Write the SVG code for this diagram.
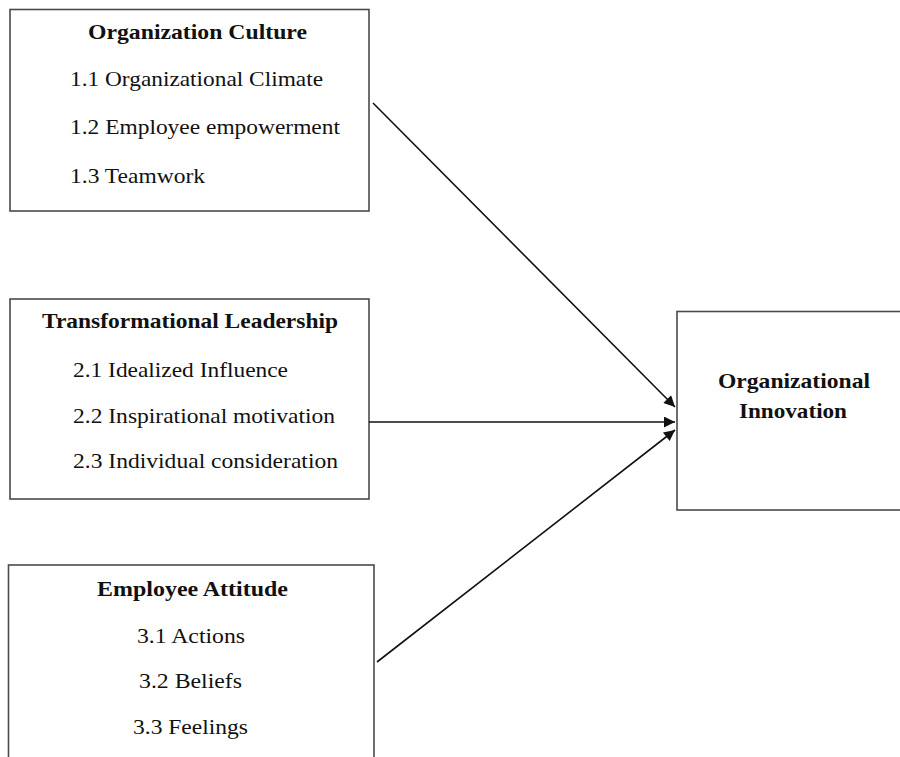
<svg xmlns="http://www.w3.org/2000/svg" width="900" height="757" viewBox="0 0 900 757">
  <style>
    .box { fill: #ffffff; stroke: #4a4a4a; stroke-width: 1.6; }
    .title { font-family: "Liberation Serif", "Times New Roman", serif; font-size: 21px; font-weight: bold; fill: #111111; }
    .item { font-family: "Liberation Serif", "Times New Roman", serif; font-size: 21px; fill: #111111; }
    .conn { stroke: #111111; stroke-width: 1.6; fill: none; marker-end: url(#arrow); }
  </style>
  <defs>
    <marker id="arrow" viewBox="0 0 10 10" refX="10" refY="5" markerWidth="14" markerHeight="11" markerUnits="userSpaceOnUse" orient="auto">
      <path d="M0,0 L10,5 L0,10 z" fill="#111111"/>
    </marker>
  </defs>
  <rect width="900" height="757" fill="#ffffff"/>

  <g id="organization-culture">
    <rect class="box" x="10" y="9.5" width="359" height="201.5"/>
    <text class="title" x="88" y="39" textLength="219" lengthAdjust="spacingAndGlyphs">Organization Culture</text>
    <text class="item" x="70" y="86" textLength="253" lengthAdjust="spacingAndGlyphs">1.1 Organizational Climate</text>
    <text class="item" x="70" y="134" textLength="270" lengthAdjust="spacingAndGlyphs">1.2 Employee empowerment</text>
    <text class="item" x="70" y="183" textLength="135" lengthAdjust="spacingAndGlyphs">1.3 Teamwork</text>
  </g>

  <g id="transformational-leadership">
    <rect class="box" x="10" y="299" width="359" height="200"/>
    <text class="title" x="42" y="328" textLength="296" lengthAdjust="spacingAndGlyphs">Transformational Leadership</text>
    <text class="item" x="73" y="377" textLength="215" lengthAdjust="spacingAndGlyphs">2.1 Idealized Influence</text>
    <text class="item" x="73" y="423" textLength="262" lengthAdjust="spacingAndGlyphs">2.2 Inspirational motivation</text>
    <text class="item" x="73" y="468" textLength="265" lengthAdjust="spacingAndGlyphs">2.3 Individual consideration</text>
  </g>

  <g id="employee-attitude">
    <rect class="box" x="8.5" y="565" width="365.5" height="200"/>
    <text class="title" x="97" y="596" textLength="191" lengthAdjust="spacingAndGlyphs">Employee Attitude</text>
    <text class="item" x="137" y="643" textLength="108" lengthAdjust="spacingAndGlyphs">3.1 Actions</text>
    <text class="item" x="139" y="688" textLength="103" lengthAdjust="spacingAndGlyphs">3.2 Beliefs</text>
    <text class="item" x="133" y="734" textLength="115" lengthAdjust="spacingAndGlyphs">3.3 Feelings</text>
  </g>

  <g id="organizational-innovation">
    <rect class="box" x="677" y="311.5" width="240" height="198.5"/>
    <text class="title" x="718" y="388" textLength="152" lengthAdjust="spacingAndGlyphs">Organizational</text>
    <text class="title" x="739" y="418" textLength="108" lengthAdjust="spacingAndGlyphs">Innovation</text>
  </g>

  <g id="connectors">
    <line class="conn" x1="373" y1="103" x2="675" y2="407"/>
    <line class="conn" x1="369" y1="422" x2="675" y2="422"/>
    <line class="conn" x1="377" y1="662" x2="675" y2="430"/>
  </g>
</svg>
